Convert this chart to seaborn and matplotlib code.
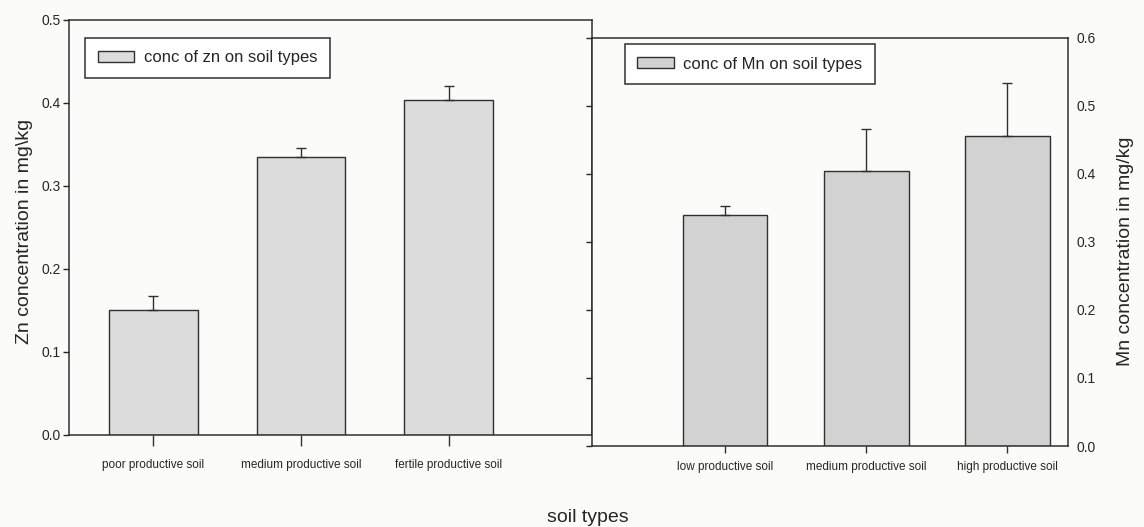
import numpy as np
import matplotlib
matplotlib.use("Agg")
import matplotlib.pyplot as plt
from matplotlib.patches import Patch
from matplotlib.ticker import MultipleLocator, FormatStrFormatter
import seaborn as sns


# Zn on soil types (left panel)
zn_labels = ["poor productive soil", "medium productive soil", "fertile productive soil"]
zn_means = [0.150, 0.335, 0.403]
zn_err = [0.017, 0.011, 0.017]

# Mn on soil types (right panel)
mn_labels = ["low productive soil", "medium productive soil", "high productive soil"]
mn_means = [0.340, 0.405, 0.456]
mn_err = [0.013, 0.061, 0.078]

ZN_COLOR = "#dcdcdc"
MN_COLOR = "#d2d2d2"
LINE = "#303030"

sns.set_style("ticks")
plt.rcParams["font.family"] = ["Liberation Sans", "DejaVu Sans"]
plt.rcParams["axes.edgecolor"] = LINE
plt.rcParams["axes.linewidth"] = 1.1

fig = plt.figure(figsize=(11.44, 5.27), dpi=100, facecolor="#fbfbfa")
ax1 = fig.add_axes([0.0603, 0.1746, 0.4572, 0.7875])
ax2 = fig.add_axes([0.5175, 0.1537, 0.4161, 0.7742])
for ax in (ax1, ax2):
    ax.set_facecolor("#fbfbfa")


def draw_panel(ax, labels, means, err, color, tick_len, tick_pad):
    sns.barplot(x=labels, y=means, ax=ax, color=color, edgecolor=LINE,
                linewidth=1.0, width=0.6, saturation=1)
    pos = np.arange(len(labels))
    ax.errorbar(pos, means, yerr=[np.zeros(len(means)), err], fmt="none",
                ecolor=LINE, elinewidth=1.0, capsize=3.5, capthick=1.0)
    ax.tick_params(axis="x", direction="out", length=tick_len, width=1,
                   pad=tick_pad, labelsize=8.5, color=LINE)
    for s in ax.spines.values():
        s.set_visible(True)
        s.set_color(LINE)


# left panel: Zn
draw_panel(ax1, zn_labels, zn_means, zn_err, ZN_COLOR, 8, 9.5)
ax1.set_xlim(-0.57, 2.97)
ax1.set_ylim(0, 0.5)
ax1.yaxis.set_major_locator(MultipleLocator(0.1))
ax1.yaxis.set_major_formatter(FormatStrFormatter("%.1f"))
ax1.tick_params(axis="y", direction="out", length=4.5, width=1, pad=1.5,
                labelsize=10, right=False)
ax1.set_ylabel("Zn concentration in mg\\kg", fontsize=14)
ax1.yaxis.set_label_coords(-0.069, 0.49)
ax1.legend(handles=[Patch(facecolor=ZN_COLOR, edgecolor=LINE,
                          label="conc of zn on soil types")],
           loc="upper left", bbox_to_anchor=(0.031, 0.957), borderaxespad=0,
           fancybox=False, edgecolor=LINE, framealpha=1, fontsize=12,
           handlelength=2.2, handleheight=0.66, handletextpad=0.55,
           borderpad=0.75).get_frame().set_linewidth(1.1)

# right panel: Mn
draw_panel(ax2, mn_labels, mn_means, mn_err, MN_COLOR, 5, 6)
ax2.set_xlim(-0.943, 2.43)
ax2.set_ylim(0, 0.6)
ax2.yaxis.set_major_locator(MultipleLocator(0.1))
ax2.yaxis.set_major_formatter(FormatStrFormatter("%.1f"))
ax2.yaxis.set_label_position("right")
ax2.tick_params(axis="y", direction="out", length=4, width=1, pad=1.8,
                labelsize=10, left=True, right=False,
                labelleft=False, labelright=True)
ax2.set_ylabel("Mn concentration in mg/kg", fontsize=14)
ax2.yaxis.set_label_coords(1.103, 0.478)
ax2.legend(handles=[Patch(facecolor=MN_COLOR, edgecolor=LINE,
                          label="conc of Mn on soil types")],
           loc="upper left", bbox_to_anchor=(0.069, 0.985), borderaxespad=0,
           fancybox=False, edgecolor=LINE, framealpha=1, fontsize=12,
           handlelength=2.2, handleheight=0.66, handletextpad=0.55,
           borderpad=0.75).get_frame().set_linewidth(1.1)

fig.text(588 / 1144, 1 - 517 / 527, "soil types", ha="center", va="center",
         fontsize=14)

fig.savefig("out.png", dpi=100, facecolor=fig.get_facecolor())
